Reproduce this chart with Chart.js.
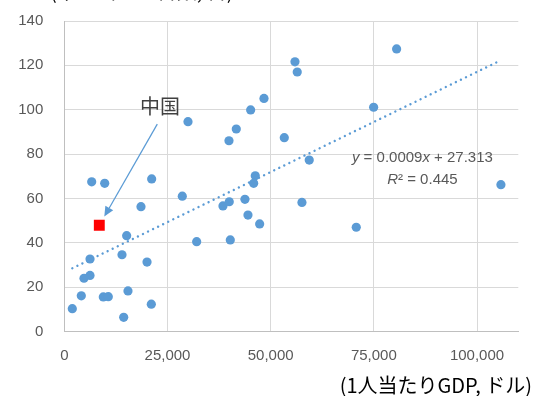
<!DOCTYPE html>
<html>
<head>
<meta charset="utf-8">
<script src="https://cdn.jsdelivr.net/npm/chart.js@4/dist/chart.umd.min.js"></script>
<style>
  html, body { margin: 0; padding: 0; background: #ffffff; }
  #wrap { width: 542px; height: 396px; position: relative; }
</style>
</head>
<body>
<div id="wrap"><canvas id="c" width="542" height="396"></canvas></div>
<script>
// ---- data ----
const gdpPerCapita = [55890, 56440, 48380, 45150, 29970, 53300, 41670, 39900, 80520, 74950,
  59350, 105790, 57580, 70740, 6640, 9790, 21170, 28590, 46270, 45880,
  18580, 38440, 39970, 43770, 44500, 47330, 15110, 32070, 40220, 6230,
  13980, 20040, 6230, 4770, 4120, 9450, 10660, 15430, 21080, 1940, 14390];
const values = [121.6, 117.0, 105.1, 99.9, 94.6, 87.4, 91.3, 86.0, 127.4, 101.1,
  77.3, 66.2, 58.2, 47.0, 67.5, 66.8, 68.8, 61.0, 70.2, 66.8,
  56.3, 56.6, 58.5, 59.6, 52.5, 48.5, 43.2, 40.5, 41.3, 32.7,
  34.6, 31.3, 25.3, 24.0, 16.1, 15.6, 15.7, 18.3, 12.3, 10.3, 6.4];
const chinaGdp = [8480];
const chinaValue = [47.9];
const trendGdp = [1940, 105790];
const trendValue = [28.5, 122.3];
const xTickValues = [0, 25000, 50000, 75000, 100000];
const yTickValues = [0, 20, 40, 60, 80, 100, 120, 140];
const chinaLabel = '中国';
const equationParts = [['y', true], [' = 0.0009', false], ['x', true], [' + 27.313', false]];
const rSquaredParts = [['R', true], ['² = 0.445', false]];
const xTitle = '(1人当たりGDP, ドル)';
const topTitle = '(千人当たり台数, 台)';

const blue = '#5B9BD5';
const textGray = '#595959';
const latin = '"Liberation Sans", Arial, sans-serif';
const cjk = '"Noto Sans CJK JP", "Liberation Sans", sans-serif';

const points = gdpPerCapita.map((g, i) => ({ x: g, y: values[i] }));
const china = chinaGdp.map((g, i) => ({ x: g, y: chinaValue[i] }));
const trend = trendGdp.map((g, i) => ({ x: g, y: trendValue[i] }));

function drawParts(ctx, parts, cx, cy, size) {
  let total = 0;
  const widths = parts.map(([t, it]) => {
    ctx.font = (it ? 'italic ' : '') + size + 'px ' + latin;
    const w = ctx.measureText(t).width; total += w; return w;
  });
  let x = cx - total / 2;
  parts.forEach(([t, it], i) => {
    ctx.font = (it ? 'italic ' : '') + size + 'px ' + latin;
    ctx.fillText(t, x, cy);
    x += widths[i];
  });
}

const annotations = {
  id: 'annotations',
  afterDatasetsDraw(chart) {
    const ctx = chart.ctx;
    const xs = chart.scales.x, ys = chart.scales.y;
    ctx.save();
    // arrow to China
    const sx = xs.getPixelForValue(22530), sy = ys.getPixelForValue(93.5);
    const tx = xs.getPixelForValue(9690), ty = ys.getPixelForValue(51.8);
    const ang = Math.atan2(ty - sy, tx - sx);
    const headLen = 10, headW = 4.5;
    const bx = tx - headLen * Math.cos(ang), by = ty - headLen * Math.sin(ang);
    ctx.strokeStyle = blue; ctx.fillStyle = blue; ctx.lineWidth = 1.25;
    ctx.beginPath(); ctx.moveTo(sx, sy); ctx.lineTo(bx, by); ctx.stroke();
    ctx.beginPath();
    ctx.moveTo(tx, ty);
    ctx.lineTo(bx + headW * Math.sin(ang), by - headW * Math.cos(ang));
    ctx.lineTo(bx - headW * Math.sin(ang), by + headW * Math.cos(ang));
    ctx.closePath(); ctx.fill();
    // China label
    ctx.fillStyle = '#404040';
    ctx.font = '20px ' + cjk;
    ctx.textAlign = 'center'; ctx.textBaseline = 'middle';
    ctx.fillText(chinaLabel, xs.getPixelForValue(23180), ys.getPixelForValue(101.6));
    // equation
    ctx.fillStyle = textGray;
    ctx.textAlign = 'left';
    drawParts(ctx, equationParts, xs.getPixelForValue(86770), ys.getPixelForValue(78.2), 15);
    drawParts(ctx, rSquaredParts, xs.getPixelForValue(86770), ys.getPixelForValue(68.3), 15);
    // x-axis title
    ctx.font = '20px ' + cjk;
    ctx.textAlign = 'right'; ctx.textBaseline = 'middle';
    ctx.fillStyle = '#000000';
    ctx.fillText(xTitle, 532, 385);
    // clipped top title
    ctx.textAlign = 'left'; ctx.textBaseline = 'alphabetic';
    ctx.fillText(topTitle, 50, -1);
    ctx.restore();
  }
};

new Chart(document.getElementById('c'), {
  type: 'scatter',
  data: {
    datasets: [
      { label: 'china', data: china, pointStyle: 'rect', pointRadius: 7.7, pointHoverRadius: 7.7,
        backgroundColor: '#FF0000', borderColor: '#FF0000', borderWidth: 0, order: 0 },
      { label: 'countries', data: points, pointRadius: 4.6, pointHoverRadius: 4.6,
        backgroundColor: blue, borderColor: blue, borderWidth: 0, order: 1 },
      { label: 'trend', data: trend, showLine: true, pointRadius: 0, borderColor: blue,
        borderWidth: 2.4, borderDash: [0.01, 5.6], borderCapStyle: 'round', fill: false, order: 2 }
    ]
  },
  options: {
    responsive: false,
    animation: false,
    events: [],
    layout: { padding: { left: 0, right: 23.7, top: 21, bottom: 0 } },
    plugins: { legend: { display: false }, tooltip: { enabled: false } },
    scales: {
      x: {
        type: 'linear', min: 0, max: 110000,
        afterBuildTicks: (s) => { s.ticks = xTickValues.map(v => ({ value: v })); },
        afterFit: (s) => { s.height = 64.5; s.paddingLeft = 0; s.paddingRight = 0; },
        grid: { color: '#D9D9D9', lineWidth: 1, drawTicks: false },
        border: { color: '#BFBFBF', width: 1 },
        ticks: { padding: 15, color: textGray, font: { family: latin, size: 15 },
          maxRotation: 0, callback: (v) => v.toLocaleString('en-US') }
      },
      y: {
        type: 'linear', min: 0, max: 140,
        afterBuildTicks: (s) => { s.ticks = yTickValues.map(v => ({ value: v })); },
        afterFit: (s) => { s.width = 64.3; s.paddingTop = 0; s.paddingBottom = 0; },
        grid: { color: '#D9D9D9', lineWidth: 1, drawTicks: false },
        border: { color: '#BFBFBF', width: 1 },
        ticks: { padding: 21, color: textGray, font: { family: latin, size: 15 } }
      }
    }
  },
  plugins: [annotations]
});
</script>
</body>
</html>
